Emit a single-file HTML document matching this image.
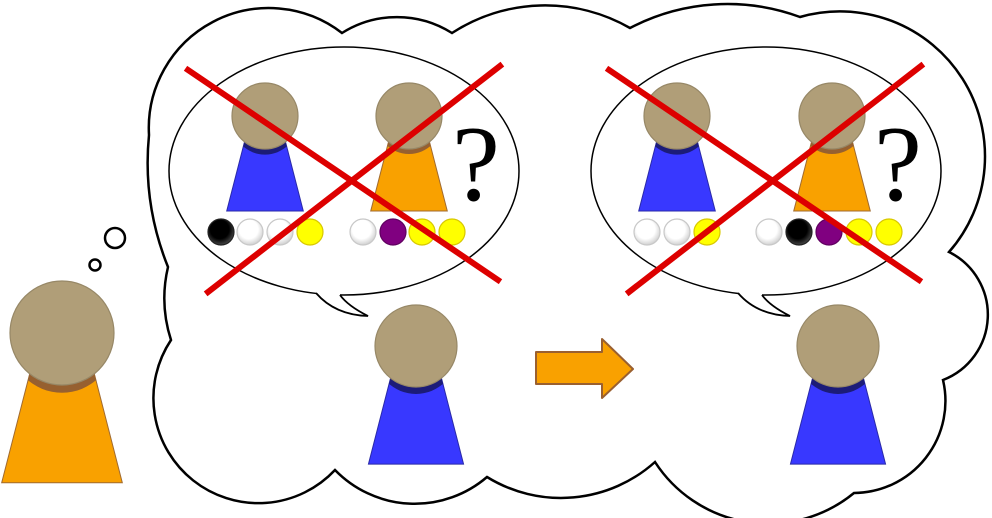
<!DOCTYPE html>
<html><head><meta charset="utf-8"><style>html,body{margin:0;padding:0;background:#fff}svg{display:block}.q{font-family:"Liberation Serif","Times New Roman","DejaVu Serif",serif;font-size:108px}</style></head>
<body>
<svg width="992" height="518" viewBox="0 0 992 518" xmlns="http://www.w3.org/2000/svg">
<defs>
<clipPath id="bc"><polygon points="-0.62,0.78 0.62,0.78 1.16,2.88 -1.16,2.88"/></clipPath>
<g id="fb">
<polygon points="-0.62,0.78 0.62,0.78 1.16,2.88 -1.16,2.88" fill="#3838ff" stroke="#2a2aa8" stroke-width="1" vector-effect="non-scaling-stroke"/>
<circle cx="0" cy="0.17" r="1" fill="#1c1c78" clip-path="url(#bc)"/>
<circle cx="0" cy="0" r="1" fill="#b09e78" stroke="#978867" stroke-width="1.2" vector-effect="non-scaling-stroke"/>
</g>
<g id="fo">
<polygon points="-0.62,0.78 0.62,0.78 1.16,2.88 -1.16,2.88" fill="#f9a100" stroke="#a06a30" stroke-width="1" vector-effect="non-scaling-stroke"/>
<circle cx="0" cy="0.15" r="1" fill="#966030" clip-path="url(#bc)"/>
<circle cx="0" cy="0" r="1" fill="#b09e78" stroke="#978867" stroke-width="1.2" vector-effect="non-scaling-stroke"/>
</g>
<radialGradient id="gw" cx="0.45" cy="0.4" r="0.6"><stop offset="0.6" stop-color="#fff"/><stop offset="1" stop-color="#d0d0d0"/></radialGradient>
<radialGradient id="gk" cx="0.45" cy="0.4" r="0.6"><stop offset="0.6" stop-color="#000"/><stop offset="1" stop-color="#444"/></radialGradient>
</defs>

<path d="M149,135 A120,120 0 0 1 342,33 A103,103 0 0 1 452,33 A171,171 0 0 1 630,28 A210,210 0 0 1 800,17 A145,145 0 0 1 949,252 A70,70 0 0 1 943,380 A92,92 0 0 1 854,493 A135,135 0 0 1 655,462 A141,141 0 0 1 487,477 A111,111 0 0 1 335,470 A105,105 0 0 1 171,340 A136,136 0 0 1 168,267 A280,280 0 0 1 149,135 Z" fill="#fff" stroke="#000" stroke-width="2.5"/>

<circle cx="115" cy="238" r="10" fill="#fff" stroke="#000" stroke-width="2.5"/>
<circle cx="95" cy="265" r="5.5" fill="#fff" stroke="#000" stroke-width="2.5"/>

<ellipse cx="344" cy="171" rx="175" ry="124" fill="#fff" stroke="#000" stroke-width="1.5"/>
<path d="M316,291 L340,293 L340,296 Q348,306 368,316 Q335,315 316,294 Z" fill="#fff"/>
<path d="M316,293 Q335,315 368,316 Q348,306 340,295" fill="none" stroke="#000" stroke-width="1.8"/>
<ellipse cx="766" cy="171" rx="175" ry="124" fill="#fff" stroke="#000" stroke-width="1.5"/>
<path d="M738,291 L762,293 L762,296 Q770,306 790,316 Q757,315 738,294 Z" fill="#fff"/>
<path d="M738,293 Q757,315 790,316 Q770,306 762,295" fill="none" stroke="#000" stroke-width="1.8"/>

<use href="#fb" transform="translate(265,116) scale(33)"/>
<use href="#fo" transform="translate(409,116) scale(33)"/>
<use href="#fb" transform="translate(677,116) scale(33)"/>
<use href="#fo" transform="translate(832,116) scale(33)"/>
<text x="476" y="200" class="q" text-anchor="middle">?</text>
<text x="898" y="200" class="q" text-anchor="middle">?</text>

<g stroke-width="1.2">
<circle cx="221" cy="232" r="13" fill="url(#gk)" stroke="#222"/>
<circle cx="250" cy="232" r="13" fill="url(#gw)" stroke="#c8c8c8"/>
<circle cx="280" cy="232" r="13" fill="url(#gw)" stroke="#c8c8c8"/>
<circle cx="310" cy="232" r="13" fill="#ffff00" stroke="#d8c800"/>
<circle cx="363" cy="232" r="13" fill="url(#gw)" stroke="#c8c8c8"/>
<circle cx="393" cy="232" r="13" fill="#800080" stroke="#600060"/>
<circle cx="422" cy="232" r="13" fill="#ffff00" stroke="#d8c800"/>
<circle cx="452" cy="232" r="13" fill="#ffff00" stroke="#d8c800"/>
<circle cx="647" cy="232" r="13" fill="url(#gw)" stroke="#c8c8c8"/>
<circle cx="677" cy="232" r="13" fill="url(#gw)" stroke="#c8c8c8"/>
<circle cx="707" cy="232" r="13" fill="#ffff00" stroke="#d8c800"/>
<circle cx="769" cy="232" r="13" fill="url(#gw)" stroke="#c8c8c8"/>
<circle cx="799" cy="232" r="13" fill="url(#gk)" stroke="#222"/>
<circle cx="829" cy="232" r="13" fill="#800080" stroke="#600060"/>
<circle cx="859" cy="232" r="13" fill="#ffff00" stroke="#d8c800"/>
<circle cx="889" cy="232" r="13" fill="#ffff00" stroke="#d8c800"/>
</g>

<g stroke="#dd0000" stroke-width="6" stroke-linecap="square">
<line x1="188" y1="70" x2="498" y2="280"/>
<line x1="500" y1="66" x2="208" y2="292"/>
<line x1="609" y1="70" x2="919" y2="280"/>
<line x1="921" y1="66" x2="629" y2="292"/>
</g>

<use href="#fb" transform="translate(416,346) scale(41)"/>
<use href="#fb" transform="translate(838,346) scale(41)"/>
<use href="#fo" transform="translate(62,333) scale(52)"/>

<polygon points="536,352 602,352 602,339 633,369 602,398 602,384 536,384" fill="#f9a100" stroke="#9a6030" stroke-width="2" stroke-linejoin="round"/>
</svg>
</body></html>
